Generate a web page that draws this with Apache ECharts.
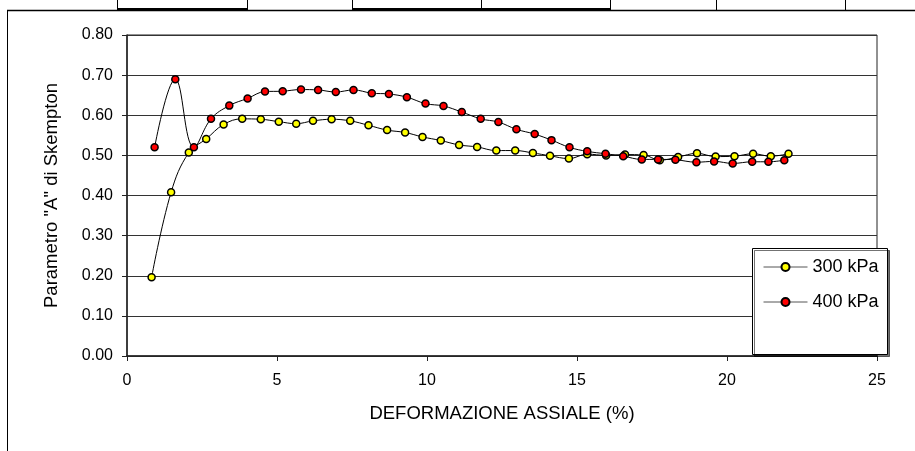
<!DOCTYPE html>
<html>
<head>
<meta charset="utf-8">
<script src="https://cdn.jsdelivr.net/npm/echarts@6/dist/echarts.min.js"></script>
<style>
html,body{margin:0;padding:0;background:#fff;}
#chart{width:915px;height:451px;}
</style>
</head>
<body>
<div id="chart"></div>
<script>
// Series data
const seriesNames = ['300 kPa', '400 kPa'];
const x300 = [0.82, 1.47, 2.06, 2.64, 3.22, 3.84, 4.46, 5.06, 5.64, 6.20, 6.82, 7.44, 8.05, 8.67, 9.27, 9.85, 10.46, 11.07, 11.67, 12.31, 12.94, 13.53, 14.10, 14.73, 15.34, 15.97, 16.60, 17.22, 17.76, 18.37, 19.00, 19.62, 20.25, 20.87, 21.46, 22.05];
const y300 = [0.196, 0.408, 0.507, 0.541, 0.577, 0.591, 0.590, 0.584, 0.579, 0.586, 0.590, 0.586, 0.575, 0.563, 0.557, 0.546, 0.537, 0.526, 0.521, 0.512, 0.512, 0.506, 0.499, 0.492, 0.503, 0.500, 0.502, 0.501, 0.488, 0.496, 0.505, 0.497, 0.498, 0.504, 0.498, 0.504];
const x400 = [0.92, 1.61, 2.23, 2.80, 3.41, 4.02, 4.60, 5.19, 5.80, 6.37, 6.96, 7.55, 8.16, 8.73, 9.33, 9.95, 10.55, 11.16, 11.79, 12.38, 12.98, 13.59, 14.15, 14.75, 15.34, 15.95, 16.54, 17.16, 17.70, 18.28, 18.98, 19.57, 20.19, 20.84, 21.38, 21.91];
const y400 = [0.520, 0.690, 0.520, 0.591, 0.624, 0.642, 0.659, 0.660, 0.664, 0.663, 0.658, 0.663, 0.655, 0.653, 0.645, 0.629, 0.623, 0.608, 0.591, 0.583, 0.565, 0.553, 0.538, 0.520, 0.510, 0.504, 0.498, 0.490, 0.490, 0.489, 0.483, 0.485, 0.480, 0.484, 0.484, 0.488];
const xTitle = 'DEFORMAZIONE ASSIALE (%)';
const yTitle = 'Parametro "A" di Skempton';

const pairs = (xs, ys) => xs.map((v, i) => [v, ys[i]]);
const FONT = "'Liberation Sans', Arial, sans-serif";

const chart = echarts.init(document.getElementById('chart'), null, {renderer: 'canvas'});

function mkSeries(name, xs, ys, color) {
  return {
    name: name,
    type: 'line',
    data: pairs(xs, ys),
    smooth: 0.4,
    symbol: 'circle',
    symbolSize: 7,
    showSymbol: true,
    lineStyle: {color: '#000', width: 1},
    itemStyle: {color: color, borderColor: '#000', borderWidth: 1.5},
    emphasis: {disabled: true},
    animation: false
  };
}

// decorative spreadsheet frame lines
const deco = [];
const vx = [117, 247, 352, 481, 610, 716, 845];
vx.forEach(x => deco.push({type: 'line', shape: {x1: x + 0.5, y1: 0, x2: x + 0.5, y2: 10}, style: {stroke: '#000', lineWidth: 1}, silent: true}));
deco.push({type: 'line', shape: {x1: 117, y1: 9, x2: 247, y2: 9}, style: {stroke: '#000', lineWidth: 2}, silent: true});
deco.push({type: 'line', shape: {x1: 352, y1: 9, x2: 610, y2: 9}, style: {stroke: '#000', lineWidth: 2}, silent: true});
deco.push({type: 'line', shape: {x1: 7, y1: 10.5, x2: 915, y2: 10.5}, style: {stroke: '#000', lineWidth: 1.5}, silent: true});
deco.push({type: 'line', shape: {x1: 7.5, y1: 10, x2: 7.5, y2: 451}, style: {stroke: '#000', lineWidth: 1}, silent: true});
// legend box
deco.push({type: 'rect', z: 5, shape: {x: 752.5, y: 248.5, width: 135, height: 106},
  style: {fill: '#fff', stroke: '#000', lineWidth: 1, shadowColor: 'rgba(0,0,0,0.55)', shadowOffsetX: 2, shadowOffsetY: 2, shadowBlur: 0}, silent: true});

chart.setOption({
  animation: false,
  backgroundColor: '#fff',
  textStyle: {fontFamily: FONT},
  grid: {left: 127, right: 38, top: 35, bottom: 95, show: true, borderColor: '#222', borderWidth: 1, containLabel: false},
  xAxis: {
    type: 'value', min: 0, max: 25, interval: 5,
    name: xTitle, nameLocation: 'middle', nameGap: 48,
    nameTextStyle: {fontSize: 18.5, color: '#000', fontFamily: FONT},
    axisLine: {show: true, onZero: false, lineStyle: {color: '#222', width: 1.5}},
    axisTick: {show: true, inside: false, length: 5, lineStyle: {color: '#222'}},
    axisLabel: {fontSize: 16, color: '#000', margin: 17, fontFamily: FONT},
    splitLine: {show: false}
  },
  yAxis: {
    type: 'value', min: 0, max: 0.8, interval: 0.1,
    name: yTitle, nameLocation: 'middle', nameGap: 66, nameRotate: 90,
    nameTextStyle: {fontSize: 18.5, color: '#000', fontFamily: FONT},
    axisLine: {show: true, onZero: false, lineStyle: {color: '#222', width: 1.5}},
    axisTick: {show: true, inside: false, length: 5, lineStyle: {color: '#222'}},
    axisLabel: {fontSize: 16, color: '#000', margin: 14, fontFamily: FONT, formatter: v => v.toFixed(2)},
    splitLine: {show: true, lineStyle: {color: '#333', width: 1}}
  },
  legend: {
    show: true, orient: 'vertical', left: 763, top: 258, padding: 0, itemGap: 17,
    itemWidth: 44, itemHeight: 10, z: 10,
    lineStyle: {color: '#555', width: 1},
    textStyle: {fontSize: 18, color: '#000', fontFamily: FONT},
    data: seriesNames
  },
  graphic: {elements: deco},
  series: [
    mkSeries(seriesNames[0], x300, y300, '#ffff00'),
    mkSeries(seriesNames[1], x400, y400, '#ff0000')
  ]
});
</script>
</body>
</html>
